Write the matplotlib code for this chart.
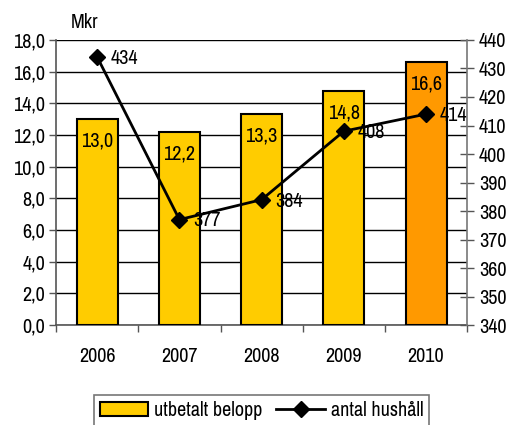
import matplotlib

matplotlib.use("Agg")
import matplotlib.pyplot as plt
from matplotlib.font_manager import fontManager
import numpy as np

# --- Data ---------------------------------------------------------------------
years = ["2006", "2007", "2008", "2009", "2010"]
belopp = [13.0, 12.2, 13.3, 14.8, 16.6]          # Mkr, left axis
hushall = [434, 377, 384, 408, 414]              # right axis
bar_colors = ["#FFCC00", "#FFCC00", "#FFCC00", "#FFCC00", "#FF9900"]

# narrow sans, like the Arial Narrow of the original
names = {f.name for f in fontManager.ttflist}
candidates = ["Arial Narrow", "Liberation Sans Narrow", "Archivo Narrow",
              "PT Sans Narrow", "Roboto Condensed", "Pragati Narrow",
              "Open Sans Condensed", "Encode Sans Condensed"]
font = next((c for c in candidates if c in names), "DejaVu Sans")
plt.rcParams["font.family"] = [font, "DejaVu Sans"]
plt.rcParams["font.size"] = 14.5
plt.rcParams["font.weight"] = "light"


def fmt(v):
    return f"{v:.1f}".replace(".", ",")


fig = plt.figure(figsize=(5.1, 4.25), dpi=100)
ax = fig.add_axes([0.110, 0.235, 0.806, 0.671])
x = np.arange(len(years))

bars = ax.bar(x, belopp, width=0.5, color=bar_colors, edgecolor="black",
              linewidth=1.5, zorder=3, label="utbetalt belopp")
for xi, v in zip(x, belopp):
    ax.annotate(fmt(v), (xi, v), xytext=(0, -9), textcoords="offset points",
                ha="center", va="top", zorder=5)

ax.set_xlim(-0.5, len(years) - 0.5)
ax.set_ylim(0, 18)
ax.set_yticks(np.arange(0, 18.1, 2))
ax.set_yticklabels([fmt(v) for v in np.arange(0, 18.1, 2)])
ax.set_xticks(x)
ax.set_xticklabels(years)
ax.set_xticks(np.arange(-0.5, len(years)), minor=True)
ax.tick_params(axis="x", which="major", length=0, pad=16)
ax.tick_params(axis="x", which="minor", length=5, width=1, color="#555555")
ax.tick_params(axis="y", length=5, width=1, color="#555555", pad=3)
ax.grid(axis="y", color="black", linewidth=1, zorder=0)
ax.set_axisbelow(True)
for s in ["top", "right"]:
    ax.spines[s].set_visible(False)
ax.spines["left"].set_color("#555555")
ax.spines["bottom"].set_color("#555555")
ax.spines["left"].set_linewidth(1.2)
ax.spines["bottom"].set_linewidth(1.2)
fig.text(85 / 510, 1 - 22 / 425, "Mkr", ha="center", va="center")

ax2 = ax.twinx()
line, = ax2.plot(x, hushall, color="black", linewidth=2, marker="D",
                 markersize=8, zorder=4, label="antal hushåll")
for xi, v in zip(x, hushall):
    ax2.annotate(str(v), (xi, v), xytext=(10, -1), textcoords="offset points",
                 ha="left", va="center")
ax2.set_ylim(340, 440)
ax2.set_yticks(np.arange(340, 441, 10))
ax2.tick_params(axis="y", direction="inout", length=10, width=1, color="#555555")
for s in ["top", "left", "bottom"]:
    ax2.spines[s].set_visible(False)
ax2.spines["right"].set_color("#777777")
ax2.spines["right"].set_linewidth(1.2)

leg = fig.legend(handles=[bars, line], loc="upper center", ncol=2,
                 bbox_to_anchor=(261.5 / 510, 1 - 395 / 425), frameon=True,
                 fancybox=False, edgecolor="#555555",
                 handlelength=2.4, columnspacing=0.7, handletextpad=0.3,
                 borderpad=0.3, borderaxespad=0)
leg.get_frame().set_linewidth(1.2)

fig.savefig("out.png", dpi=100)
